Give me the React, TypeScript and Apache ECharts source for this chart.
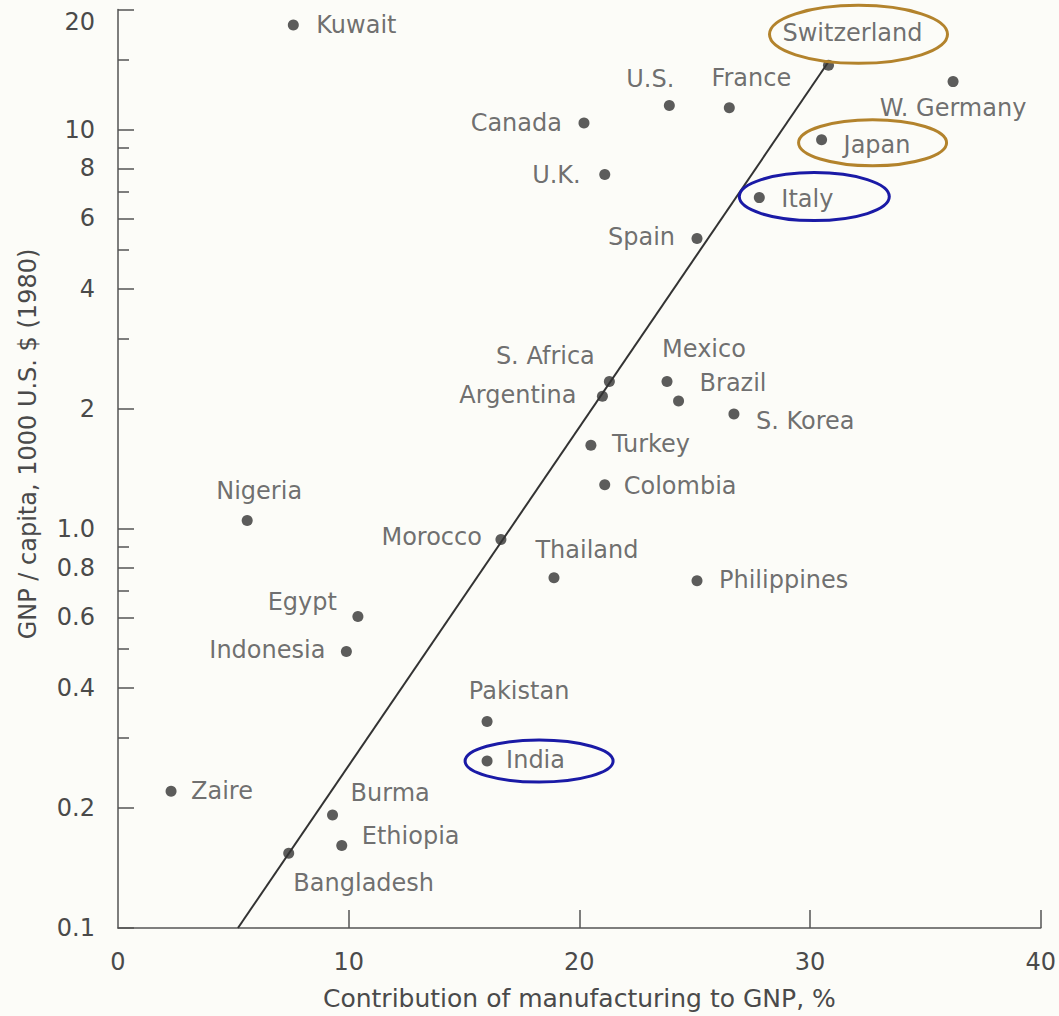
import React, { useEffect, useRef } from "react";
import * as echarts from "echarts";

// ---------- data ----------
const countries = [
  "Kuwait", "Switzerland", "W. Germany", "U.S.", "France", "Canada", "Japan", "U.K.",
  "Italy", "Spain", "S. Africa", "Mexico", "Argentina", "Brazil", "S. Korea", "Turkey",
  "Colombia", "Nigeria", "Morocco", "Thailand", "Philippines", "Egypt", "Indonesia",
  "Pakistan", "India", "Zaire", "Burma", "Ethiopia", "Bangladesh",
];
// Contribution of manufacturing to GNP, %
const manufacturingPct = [
  7.6, 30.8, 36.2, 23.9, 26.5, 20.2, 30.5, 21.1,
  27.8, 25.1, 21.3, 23.8, 21.0, 24.3, 26.7, 20.5,
  21.1, 5.6, 16.6, 18.9, 25.1, 10.4, 9.9,
  16.0, 16.0, 2.3, 9.3, 9.7, 7.4,
];
// GNP per capita, 1000 US$ (1980)
const gnpPerCapita = [
  18.3, 14.5, 13.2, 11.5, 11.35, 10.4, 9.44, 7.72,
  6.76, 5.34, 2.34, 2.34, 2.15, 2.09, 1.94, 1.62,
  1.29, 1.05, 0.94, 0.754, 0.741, 0.603, 0.493,
  0.329, 0.262, 0.22, 0.192, 0.161, 0.154,
];
// trend line end points
const trendX = [5.2, 30.8];
const trendY = [0.1, 14.8];

const xTickLabels = [0, 10, 20, 30, 40];
const xTickMarks = [10, 20, 30, 40];
const yMajorTicks = [0.1, 0.2, 0.4, 0.6, 0.8, 1.0, 2, 4, 6, 8, 10, 20];
const yMinorTicks = [0.3, 0.5, 0.7, 0.9, 3, 5, 7, 9, 15];

// ---------- styling / placement (not data) ----------
const FONT = "DejaVu Sans";
const TEXT = "#4a4a4a";
const DOT_R = 5.5;
// [align, dx, dy] of label anchor relative to dot centre
const labelPlace: Record<string, [string, number, number]> = {
  Kuwait: ["left", 23, 0],
  Switzerland: ["center", 24, -32],
  "W. Germany": ["center", 0, 26],
  "U.S.": ["center", -19, -27],
  France: ["center", 22, -30],
  Canada: ["right", -22, 0],
  Japan: ["left", 22, 5],
  "U.K.": ["right", -24, 0],
  Italy: ["left", 22, 1],
  Spain: ["right", -22, -1],
  "S. Africa": ["center", -64, -26],
  Mexico: ["center", 37, -33],
  Argentina: ["right", -26, -1],
  Brazil: ["left", 21, -18],
  "S. Korea": ["left", 22, 7],
  Turkey: ["left", 21, -1],
  Colombia: ["left", 19, 1],
  Nigeria: ["center", 12, -29],
  Morocco: ["right", -19, -3],
  Thailand: ["center", 33, -28],
  Philippines: ["left", 22, -1],
  Egypt: ["right", -21, -15],
  Indonesia: ["right", -21, -1],
  Pakistan: ["center", 32, -31],
  India: ["left", 19, -1],
  Zaire: ["left", 20, 0],
  Burma: ["left", 18, -22],
  Ethiopia: ["left", 20, -9],
  Bangladesh: ["center", 75, 30],
};
// [dx, dy, rx, ry, colour] of ellipse relative to dot centre
const ellipses: Record<string, [number, number, number, number, string]> = {
  Switzerland: [30, -31, 89, 29, "#b3832c"],
  Japan: [51, 3, 74, 23, "#b3832c"],
  Italy: [55, -1, 75, 24, "#1a1aa6"],
  India: [52, 0, 74, 21, "#1a1aa6"],
};

const lg = (v: number) => Math.log10(v);

export default function App() {
  const ref = useRef<HTMLDivElement>(null);

  useEffect(() => {
    if (!ref.current) return;
    const chart = echarts.init(ref.current, undefined, { renderer: "svg" });

    const scatterData = countries.map((name, i) => {
      const p = labelPlace[name] || ["left", 20, 0];
      return {
        name,
        value: [manufacturingPct[i], lg(gnpPerCapita[i])],
        label: {
          show: true,
          formatter: name,
          position: [DOT_R + p[1], DOT_R + p[2]],
          align: p[0],
          verticalAlign: "middle",
        },
      };
    });

    const majorLog = yMajorTicks.map(lg);
    const fmtY = (v: number) => {
      let best = 0;
      let bd = Infinity;
      majorLog.forEach((m, i) => {
        const d = Math.abs(m - v);
        if (d < bd) {
          bd = d;
          best = i;
        }
      });
      const t = yMajorTicks[best];
      const s = t < 1.5 ? t.toFixed(1) : String(t);
      return best === yMajorTicks.length - 1 ? "{top|" + s + "}" : s;
    };

    chart.setOption({
      animation: false,
      backgroundColor: "#fcfcf8",
      textStyle: { fontFamily: FONT },
      grid: { left: 118, right: 13, top: 9.6, bottom: 86 },
      xAxis: {
        type: "value",
        min: 0,
        max: 40,
        name: "Contribution of manufacturing to GNP, %",
        nameLocation: "middle",
        nameGap: 58,
        nameTextStyle: { fontFamily: FONT, fontSize: 25, color: TEXT },
        axisLine: { show: true, onZero: false, lineStyle: { color: "#555", width: 1.5 } },
        axisTick: {
          show: true,
          inside: true,
          length: 18,
          customValues: xTickMarks,
          lineStyle: { color: "#555", width: 1.5 },
        },
        axisLabel: {
          customValues: xTickLabels,
          margin: 22,
          fontFamily: FONT,
          fontSize: 24,
          color: TEXT,
        },
        splitLine: { show: false },
      },
      yAxis: [
        {
          type: "value",
          min: -1,
          max: lg(20),
          axisLine: { show: true, onZero: false, lineStyle: { color: "#555", width: 1.5 } },
          axisTick: {
            show: true,
            inside: true,
            length: 16,
            customValues: majorLog,
            lineStyle: { color: "#555", width: 1.5 },
          },
          axisLabel: {
            customValues: majorLog,
            formatter: fmtY,
            margin: 23,
            fontFamily: FONT,
            fontSize: 24,
            color: TEXT,
            rich: {
              top: {
                fontFamily: FONT,
                fontSize: 24,
                color: TEXT,
                padding: [24, 0, 0, 0],
              },
            },
          },
          splitLine: { show: false },
        },
        {
          type: "value",
          min: -1,
          max: lg(20),
          position: "left",
          axisLine: { show: false },
          axisLabel: { show: false },
          axisTick: {
            show: true,
            inside: true,
            length: 11,
            customValues: yMinorTicks.map(lg),
            lineStyle: { color: "#555", width: 1.5 },
          },
          splitLine: { show: false },
        },
      ],
      series: [
        {
          type: "line",
          data: trendX.map((x, i) => [x, lg(trendY[i])]),
          symbol: "none",
          lineStyle: { color: "#333", width: 2 },
          z: 1,
          silent: true,
        },
        {
          type: "scatter",
          data: scatterData,
          symbol: "circle",
          symbolSize: DOT_R * 2,
          itemStyle: { color: "#333" },
          label: {
            fontFamily: FONT,
            fontSize: 24,
            color: TEXT,
          },
          labelLayout: { hideOverlap: false },
          z: 3,
        },
      ],
    });

    const graphics: any[] = Object.entries(ellipses).map(([name, e]) => {
      const i = countries.indexOf(name);
      const px = chart.convertToPixel({ seriesIndex: 1 }, [
        manufacturingPct[i],
        lg(gnpPerCapita[i]),
      ]) as number[];
      return {
        type: "ellipse",
        shape: { cx: px[0] + e[0], cy: px[1] + e[1], rx: e[2], ry: e[3] },
        style: { fill: "none", stroke: e[4], lineWidth: 3 },
        z: 10,
        silent: true,
      };
    });
    graphics.push({
      type: "text",
      x: 28,
      y: 444,
      rotation: Math.PI / 2,
      style: {
        text: "GNP / capita, 1000 U.S. $ (1980)",
        fontFamily: FONT,
        fontSize: 24,
        fill: TEXT,
        align: "center",
        verticalAlign: "middle",
      },
      z: 10,
    });
    chart.setOption({ graphic: graphics });

    return () => chart.dispose();
  }, []);

  return (
    <div
      ref={ref}
      style={{ position: "fixed", left: 0, top: 0, width: 1059, height: 1016 }}
    />
  );
}
